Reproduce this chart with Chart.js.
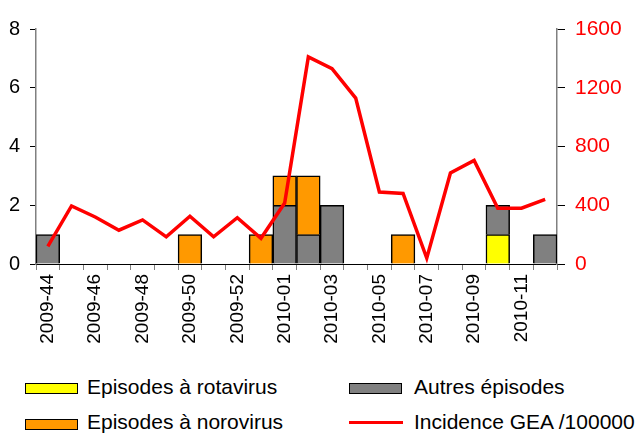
<!DOCTYPE html>
<html>
<head>
<meta charset="utf-8">
<script src="https://cdn.jsdelivr.net/npm/chart.js@4"></script>
<style>
  body { margin: 0; background: #fff; font-family: 'Liberation Sans', Arial, sans-serif; }
  #wrap { position: relative; width: 637px; height: 433px; }
  #box { position: absolute; left: 0; top: 0; width: 637px; height: 360px; }
  .lg-box { position: absolute; width: 51px; height: 9px; border: 1.5px solid #000; }
  .lg-line { position: absolute; width: 54px; height: 3px; background: #ff0000; }
  .lg-txt { position: absolute; font-size: 21px; line-height: 24px; color: #000; white-space: nowrap; }
</style>
</head>
<body>
<div id="wrap">
  <div id="box"><canvas id="c"></canvas></div>
  <div class="lg-box" style="left:25px;top:383px;background:#ffff00"></div>
  <div class="lg-txt" style="left:87px;top:375px">Episodes à rotavirus</div>
  <div class="lg-box" style="left:349px;top:383px;background:#808080"></div>
  <div class="lg-txt" style="left:414px;top:375px">Autres épisodes</div>
  <div class="lg-box" style="left:25px;top:419px;background:#ff9900"></div>
  <div class="lg-txt" style="left:87px;top:410px">Episodes à norovirus</div>
  <div class="lg-line" style="left:349px;top:421px"></div>
  <div class="lg-txt" style="left:414px;top:410px">Incidence GEA /100000</div>
</div>
<script>
const semaines = ['2009-44', '2009-45', '2009-46', '2009-47', '2009-48', '2009-49', '2009-50', '2009-51', '2009-52', '2009-53',
  '2010-01', '2010-02', '2010-03', '2010-04', '2010-05', '2010-06', '2010-07', '2010-08', '2010-09', '2010-10', '2010-11', '2010-12']
const rotavirus = [0, 0, 0, 0, 0, 0, 0, 0, 0, 0, 0, 0, 0, 0, 0, 0, 0, 0, 0, 1, 0, 0]
const autres = [1, 0, 0, 0, 0, 0, 0, 0, 0, 0, 2, 1, 2, 0, 0, 0, 0, 0, 0, 1, 0, 1]
const norovirus = [0, 0, 0, 0, 0, 0, 1, 0, 0, 1, 1, 2, 0, 0, 0, 1, 0, 0, 0, 0, 0, 0]
const incidence = [120, 395, 320, 230, 300, 185, 325, 185, 315, 175, 415, 1410, 1330, 1130, 490, 480, 40, 620, 705, 380, 380, 440]

const vide = arr => arr.map(v => v || null)

const barre = (label, data, color) => ({
  type: 'bar',
  label,
  data: vide(data),
  backgroundColor: color,
  borderColor: '#000',
  borderWidth: 1.5,
  barPercentage: 1,
  categoryPercentage: 1,
  yAxisID: 'y',
  order: 1,
})

Chart.defaults.font.family = "'Liberation Sans', Arial, sans-serif"
Chart.defaults.color = '#000'

new Chart(document.getElementById('c'), {
  data: {
    labels: semaines,
    datasets: [
      barre('Episodes à rotavirus', rotavirus, '#ffff00'),
      barre('Autres épisodes', autres, '#808080'),
      barre('Episodes à norovirus', norovirus, '#ff9900'),
      {
        type: 'line',
        label: 'Incidence GEA /100000',
        data: incidence,
        borderColor: '#ff0000',
        borderWidth: 3.5,
        pointRadius: 0,
        tension: 0,
        yAxisID: 'y1',
        order: 0,
      },
    ]
  },
  options: {
    responsive: true,
    maintainAspectRatio: false,
    animation: false,
    layout: { padding: { top: 29, left: 0, right: 0, bottom: 0 } },
    plugins: { legend: { display: false }, tooltip: { enabled: false } },
    scales: {
      x: {
        stacked: true,
        offset: true,
        afterFit: s => { s.height = 96 },
        border: { color: '#000', width: 1 },
        grid: { offset: true, drawOnChartArea: false, tickLength: 6, tickColor: '#808080' },
        ticks: {
          autoSkip: false,
          maxRotation: 90,
          minRotation: 90,
          padding: 4,
          font: { size: 19 },
          callback: (v, i) => i % 2 === 0 ? semaines[i] : '',
        },
      },
      y: {
        stacked: true,
        position: 'left',
        min: 0,
        max: 8,
        afterFit: s => { s.width = 36 },
        border: { color: '#808080', width: 1.5 },
        grid: { drawOnChartArea: false, tickLength: 6, tickColor: '#000' },
        ticks: { stepSize: 2, padding: 10, font: { size: 20 } },
      },
      y1: {
        stacked: false,
        position: 'right',
        min: 0,
        max: 1600,
        afterFit: s => { s.width = 80 },
        border: { color: '#808080', width: 1.5 },
        grid: { drawOnChartArea: false, tickLength: 8, tickColor: '#000' },
        ticks: { stepSize: 400, padding: 10, color: '#ff0000', font: { size: 21 }, callback: v => String(v) },
      },
    }
  }
})
</script>
</body>
</html>
